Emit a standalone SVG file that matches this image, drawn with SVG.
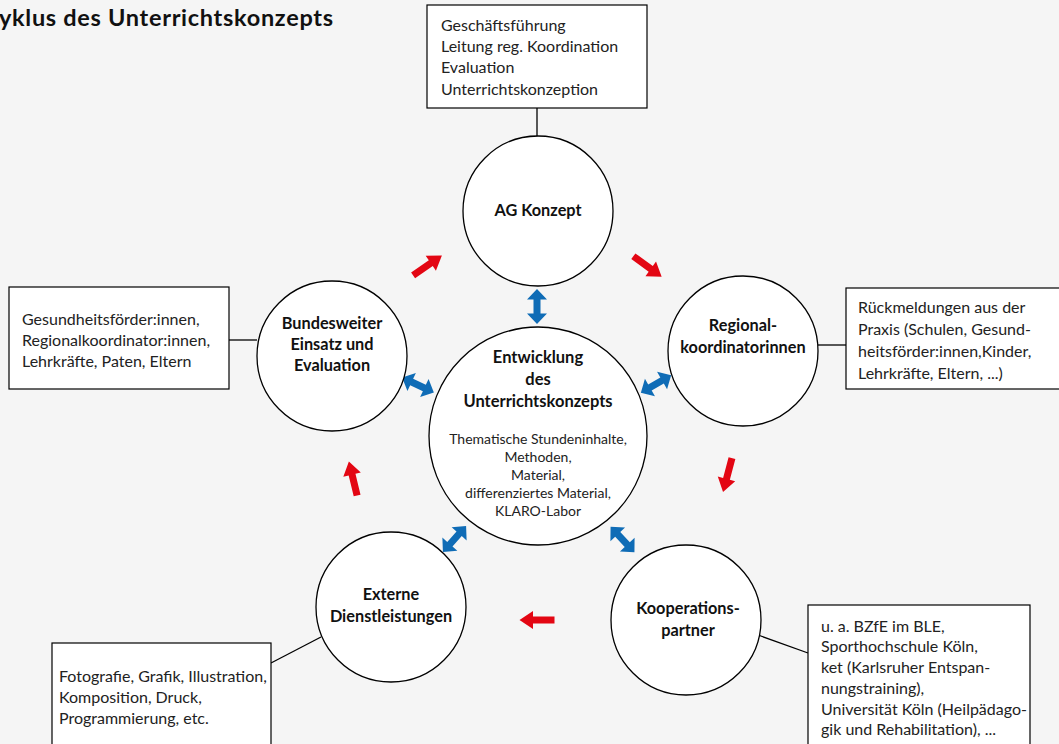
<svg xmlns="http://www.w3.org/2000/svg" width="1059" height="744" viewBox="0 0 1059 744">
<style>
.bg{fill:#f5f5f5}
.circ{fill:#fff;stroke:#000;stroke-width:1.3}
.box{fill:#fff;stroke:#000;stroke-width:1.2}
.conn line{stroke:#000;stroke-width:1.3}
.t{font-family:Lato,"Liberation Sans",sans-serif;font-size:16px;fill:#222}
.b{font-family:Lato,"Liberation Sans",sans-serif;font-size:16.3px;font-weight:bold;fill:#111;text-anchor:middle}
.s{font-family:Lato,"Liberation Sans",sans-serif;font-size:14px;fill:#222;text-anchor:middle}
.title{font-family:Lato,"Liberation Sans",sans-serif;font-size:23.5px;font-weight:bold;fill:#111;letter-spacing:0.7px}
.red{fill:#e30613}
.blue{fill:#0f6cb6}
</style>
<defs>
<polygon id="ra" points="-17.5,-3.5 4,-3.5 4,-9 17.5,0 4,9 4,3.5 -17.5,3.5"/>
<polygon id="da" points="-17.5,0 -7,-10 -7,-3.5 7,-3.5 7,-10 17.5,0 7,10 7,3.5 -7,3.5 -7,10"/>
</defs>
<rect class="bg" x="0" y="0" width="1059" height="744"/>
<text class="title" x="-1" y="26">yklus des Unterrichtskonzepts</text>

<g id="connectors" class="conn">
<line x1="537" y1="108" x2="537" y2="136"/>
<line x1="818" y1="345" x2="846" y2="345"/>
<line x1="229" y1="340" x2="257" y2="340"/>
<line x1="271" y1="663" x2="321" y2="637"/>
<line x1="758" y1="635" x2="808" y2="653"/>
</g>

<g id="arrows">
<use href="#ra" class="red" transform="translate(427.5,265.5) rotate(-34.6)"/>
<use href="#ra" class="red" transform="translate(647.5,266.5) rotate(36)"/>
<use href="#ra" class="red" transform="translate(727.5,475) rotate(104.8)"/>
<use href="#ra" class="red" transform="translate(537,620) rotate(180)"/>
<use href="#ra" class="red" transform="translate(353,478.5) rotate(-103.6)"/>
<use href="#da" class="blue" transform="translate(537,306.5) rotate(90)"/>
<use href="#da" class="blue" transform="translate(418,385) rotate(25)"/>
<use href="#da" class="blue" transform="translate(656,384) rotate(-30)"/>
<use href="#da" class="blue" transform="translate(454.5,539) rotate(-48.5)"/>
<use href="#da" class="blue" transform="translate(622.5,539.5) rotate(47)"/>
</g>

<g id="box-top">
<rect class="box" x="427" y="5" width="220" height="103"/>
<text class="t" x="441" y="31">Geschäftsführung</text>
<text class="t" x="441" y="52">Leitung reg. Koordination</text>
<text class="t" x="441" y="73">Evaluation</text>
<text class="t" x="441" y="95">Unterrichtskonzeption</text>
</g>

<g id="box-right">
<rect class="box" x="846" y="288" width="220" height="101"/>
<text class="t" x="858" y="313">Rückmeldungen aus der</text>
<text class="t" x="858" y="335">Praxis (Schulen, Gesund-</text>
<text class="t" x="858" y="357">heitsförder:innen,Kinder,</text>
<text class="t" x="858" y="379">Lehrkräfte, Eltern, ...)</text>
</g>

<g id="box-left">
<rect class="box" x="9" y="287" width="220" height="102"/>
<text class="t" x="22" y="325">Gesundheitsförder:innen,</text>
<text class="t" x="22" y="346">Regionalkoordinator:innen,</text>
<text class="t" x="22" y="367">Lehrkräfte, Paten, Eltern</text>
</g>

<g id="box-bottom-left">
<rect class="box" x="52" y="643" width="219" height="110"/>
<text class="t" x="59" y="682">Fotografie, Grafik, Illustration,</text>
<text class="t" x="59" y="703">Komposition, Druck,</text>
<text class="t" x="59" y="724">Programmierung, etc.</text>
</g>

<g id="box-bottom-right">
<rect class="box" x="808" y="605" width="222" height="150"/>
<text class="t" x="821" y="632">u. a. BZfE im BLE,</text>
<text class="t" x="821" y="652">Sporthochschule Köln,</text>
<text class="t" x="821" y="673">ket (Karlsruher Entspan-</text>
<text class="t" x="821" y="694">nungstraining),</text>
<text class="t" x="821" y="715">Universität Köln (Heilpädago-</text>
<text class="t" x="821" y="735">gik und Rehabilitation), ...</text>
</g>

<g id="node-ag-konzept">
<circle class="circ" cx="538" cy="211" r="75"/>
<text class="b" x="538" y="216">AG Konzept</text>
</g>

<g id="node-regional">
<circle class="circ" cx="743" cy="351" r="75"/>
<text class="b" x="743" y="331">Regional-</text>
<text class="b" x="743" y="353">koordinatorinnen</text>
</g>

<g id="node-bundesweit">
<circle class="circ" cx="332" cy="356" r="75"/>
<text class="b" x="332" y="329">Bundesweiter</text>
<text class="b" x="332" y="350">Einsatz und</text>
<text class="b" x="332" y="371">Evaluation</text>
</g>

<g id="node-extern">
<circle class="circ" cx="391" cy="607" r="75"/>
<text class="b" x="391" y="600">Externe</text>
<text class="b" x="391" y="622">Dienstleistungen</text>
</g>

<g id="node-kooperation">
<circle class="circ" cx="686" cy="620" r="75"/>
<text class="b" x="688" y="614">Kooperations-</text>
<text class="b" x="688" y="636">partner</text>
</g>

<g id="node-center">
<circle class="circ" cx="538" cy="436" r="109"/>
<text class="b" x="538" y="363" style="font-size:16.5px">Entwicklung</text>
<text class="b" x="538" y="385" style="font-size:16.5px">des</text>
<text class="b" x="538" y="407" style="font-size:16.5px">Unterrichtskonzepts</text>
<text class="s" x="538" y="444">Thematische Stundeninhalte,</text>
<text class="s" x="538" y="462">Methoden,</text>
<text class="s" x="538" y="480">Material,</text>
<text class="s" x="538" y="498">differenziertes Material,</text>
<text class="s" x="538" y="516">KLARO-Labor</text>
</g>
</svg>
